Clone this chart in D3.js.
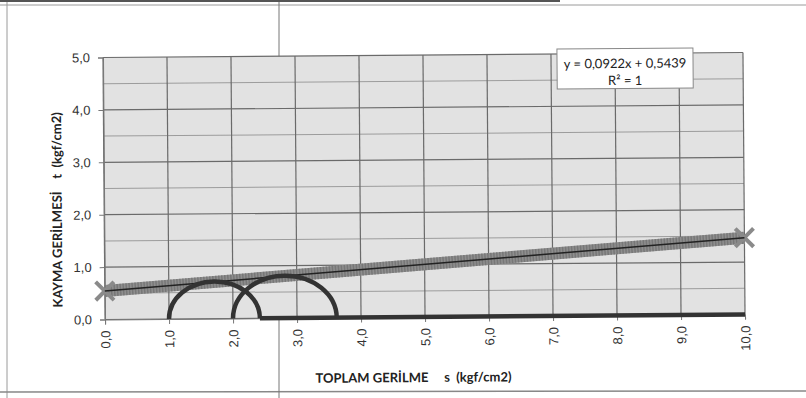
<!DOCTYPE html>
<html>
<head>
<meta charset="utf-8">
<script src="https://cdn.jsdelivr.net/npm/d3@7.9.0/dist/d3.min.js"></script>
<style>
  body { margin: 0; background: #fff; }
  svg { display: block; font-family: Lato, 'Open Sans', sans-serif; }
</style>
</head>
<body>
<svg id="chart" width="806" height="398"></svg>
<script>
// values
const xDomain = [0, 10];
const yDomain = [0, 5];
const xTickValues = [0, 1, 2, 3, 4, 5, 6, 7, 8, 9, 10];
const yTickValues = [0, 1, 2, 3, 4, 5];
const yMinorValues = [0.5, 1.5, 2.5, 3.5, 4.5];

const trendSlope = 0.0922;
const trendIntercept = 0.5439;
const trendX = [0, 10];

const circleCenters = [1.71, 2.81];
const circleRadii = [0.71, 0.81];
const baselineX = [2.42, 10];

const equationLines = ['y = 0,0922x + 0,5439', 'R² = 1'];
const xTitle = 'TOPLAM GERİLME     s  (kgf/cm2)';
const yTitle = 'KAYMA GERİLMESİ    t  (kgf/cm2)';

const plot = { left: 104, right: 744, top: 55, bottom: 317 };

const svg = d3.select('#chart');

// scan page borders
const page = svg.append('g').attr('stroke', '#9a9a9a').attr('fill', 'none');
page.append('line').attr('x1', 0).attr('x2', 806).attr('y1', 5).attr('y2', 5);
page.append('line').attr('x1', 7).attr('x2', 7).attr('y1', 0).attr('y2', 398);
page.append('line').attr('x1', 0).attr('x2', 806).attr('y1', 392).attr('y2', 391).attr('stroke', '#888').attr('stroke-width', 1.5);
page.append('line').attr('x1', 279).attr('x2', 279).attr('y1', 0).attr('y2', 398).attr('stroke', '#777');
page.append('line').attr('x1', 0).attr('x2', 560).attr('y1', 1).attr('y2', 1).attr('stroke', '#555').attr('stroke-width', 2);

const g = svg.append('g').attr('transform', 'rotate(-0.45, 424, 186)');

const x = d3.scaleLinear().domain(xDomain).range([plot.left, plot.right]);
const y = d3.scaleLinear().domain(yDomain).range([plot.bottom, plot.top]);

const comma = v => d3.format('.1f')(v).replace('.', ',');

g.append('rect')
  .attr('x', plot.left).attr('y', plot.top)
  .attr('width', plot.right - plot.left).attr('height', plot.bottom - plot.top)
  .attr('fill', '#e2e2e2');

// minor horizontal grid
g.append('g').selectAll('line').data(yMinorValues).join('line')
  .attr('x1', plot.left).attr('x2', plot.right)
  .attr('y1', d => y(d)).attr('y2', d => y(d))
  .attr('stroke', '#9c9c9c').attr('stroke-width', 1);

// major grid
g.append('g').selectAll('line').data(yTickValues).join('line')
  .attr('x1', plot.left).attr('x2', plot.right)
  .attr('y1', d => y(d)).attr('y2', d => y(d))
  .attr('stroke', '#6a6a6a').attr('stroke-width', 1.2);

g.append('g').selectAll('line').data(xTickValues).join('line')
  .attr('x1', d => x(d)).attr('x2', d => x(d))
  .attr('y1', plot.top).attr('y2', plot.bottom)
  .attr('stroke', '#6a6a6a').attr('stroke-width', 1.2);

// axes
const yAxis = g.append('g')
  .attr('transform', `translate(${plot.left},0)`)
  .call(d3.axisLeft(y).tickValues(yTickValues).tickFormat(comma).tickSize(5).tickPadding(8));
yAxis.select('.domain').attr('stroke', '#777');
yAxis.selectAll('.tick line').attr('stroke', '#777');
yAxis.selectAll('text').attr('font-size', 13).attr('fill', '#333');

const xAxis = g.append('g')
  .attr('transform', `translate(0,${plot.bottom})`)
  .call(d3.axisBottom(x).tickValues(xTickValues).tickFormat(comma).tickSize(5));
xAxis.select('.domain').attr('stroke', '#777');
xAxis.selectAll('.tick line').attr('stroke', '#777');
xAxis.selectAll('text')
  .attr('font-size', 13).attr('fill', '#333')
  .attr('text-anchor', 'end')
  .attr('transform', 'rotate(-90)')
  .attr('x', -11).attr('y', 0).attr('dy', '0.35em');

// trend line drawn as the dense marker band
const trendPts = trendX.map(v => [v, trendSlope * v + trendIntercept]);
const line = d3.line().x(d => x(d[0])).y(d => y(d[1]));

g.append('path').attr('d', line(trendPts))
  .attr('stroke', '#8e8e8e').attr('stroke-width', 12).attr('fill', 'none');
g.append('path').attr('d', line(trendPts))
  .attr('stroke', '#6e6e6e').attr('stroke-width', 12).attr('fill', 'none')
  .attr('stroke-dasharray', '1.5 1.5').attr('opacity', 0.7);
g.append('g').selectAll('path').data(trendPts).join('path')
  .attr('d', d3.symbol(d3.symbolTimes, 220)())
  .attr('transform', d => `translate(${x(d[0])},${y(d[1])})`)
  .attr('stroke', '#8a8a8a').attr('stroke-width', 4).attr('fill', 'none');
g.append('path').attr('d', line(trendPts))
  .attr('stroke', '#222').attr('stroke-width', 1.5).attr('fill', 'none');

// baseline under the circles
g.append('path')
  .attr('d', line(baselineX.map(v => [v, 0])))
  .attr('stroke', '#333').attr('stroke-width', 4.5).attr('fill', 'none');

// Mohr circles (upper halves)
g.append('g').selectAll('path').data(circleCenters).join('path')
  .attr('d', (c, i) => {
    const r = circleRadii[i];
    const rx = x(r) - x(0);
    const ry = y(0) - y(r);
    return `M${x(c - r)},${y(0)} A${rx},${ry} 0 0 1 ${x(c + r)},${y(0)}`;
  })
  .attr('stroke', '#333').attr('stroke-width', 4.5).attr('fill', 'none');

// equation box
const box = g.append('g').attr('transform', 'translate(626,70)');
box.append('rect')
  .attr('x', -68).attr('y', -20).attr('width', 136).attr('height', 40)
  .attr('fill', '#fff').attr('stroke', '#888');
box.selectAll('text').data(equationLines).join('text')
  .attr('y', (d, i) => -5 + i * 17)
  .attr('text-anchor', 'middle').attr('dy', '0.35em')
  .attr('font-size', 13).attr('fill', '#222')
  .text(d => d);

// axis titles
g.append('text')
  .attr('x', 412).attr('y', 382)
  .attr('text-anchor', 'middle').attr('font-size', 13).attr('font-weight', 'bold')
  .attr('fill', '#222').attr('xml:space', 'preserve').style('white-space', 'pre')
  .text(xTitle);

g.append('text')
  .attr('transform', 'translate(57,207) rotate(-90)')
  .attr('text-anchor', 'middle').attr('font-size', 13).attr('font-weight', 'bold')
  .attr('dy', '0.35em')
  .attr('fill', '#222').style('white-space', 'pre')
  .text(yTitle);
</script>
</body>
</html>
